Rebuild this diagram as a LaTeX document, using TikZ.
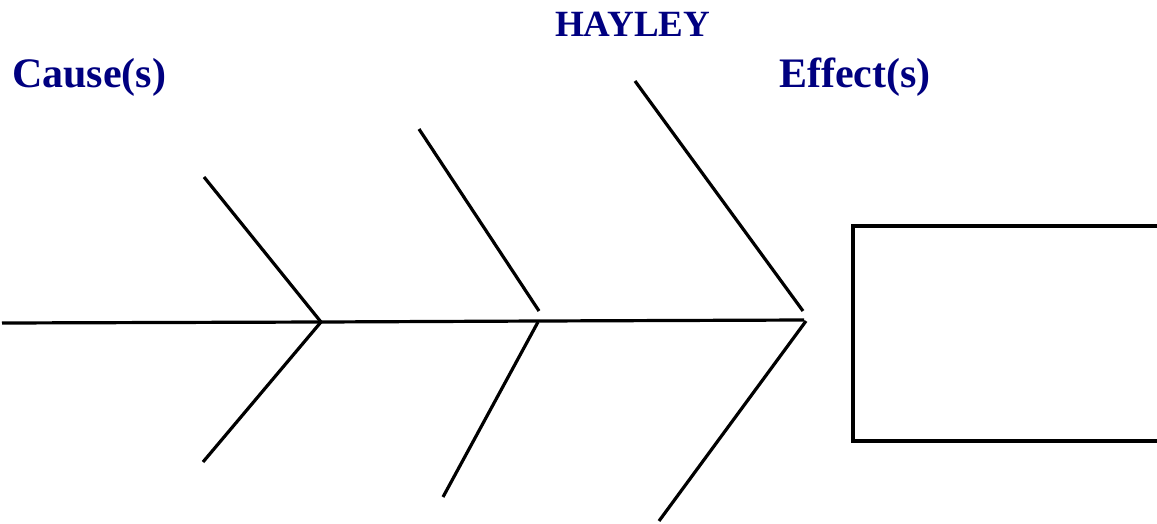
\documentclass[tikz,border=0pt]{standalone}
\usepackage{fontspec}
\setmainfont{Liberation Serif}
\definecolor{navytext}{RGB}{0,0,128}
\begin{document}
\begin{tikzpicture}[x=1pt,y=-1pt,
  bone/.style={line width=3.2pt, black},
  title/.style={font=\bfseries, text=navytext, anchor=base west, inner sep=0pt},
  effectbox/.style={draw, line width=3.5pt, minimum width=330pt, minimum height=215pt, anchor=north west, inner sep=0pt}]
\useasboundingbox (0,0) rectangle (1157,523);
\clip (0,0) rectangle (1157,523);
% labels
\node[title, font=\bfseries\fontsize{42}{42}\selectfont] (cause) at (12,87) {Cause(s)};
\node[title, font=\bfseries\fontsize{37}{37}\selectfont] (hayley) at (555,36) {HAYLEY};
\node[title, font=\bfseries\fontsize{42}{42}\selectfont] (effect) at (779,87) {Effect(s)};
% effect box
\node[effectbox] (box) at (851,224) {};
% spine
\coordinate (s0) at (2,323);
\coordinate (j1) at (321,322);
\coordinate (j2) at (539,321);
\coordinate (j3) at (804,320);
\draw[bone] (s0) -- (j1) -- (j2) -- (j3);
% bones
\coordinate (t1) at (204,177);
\coordinate (b1) at (203,462);
\coordinate (t2) at (419,129);
\coordinate (t2e) at (539,311);
\coordinate (b2s) at (538,322);
\coordinate (b2) at (443,497);
\coordinate (t3) at (635,81);
\coordinate (t3e) at (803,311);
\coordinate (b3s) at (806,321);
\coordinate (b3) at (659,521);
\draw[bone] (t1) -- (j1) -- (b1);
\draw[bone] (t2) -- (t2e);
\draw[bone] (b2s) -- (b2);
\draw[bone] (t3) -- (t3e);
\draw[bone] (b3s) -- (b3);
\end{tikzpicture}
\end{document}
